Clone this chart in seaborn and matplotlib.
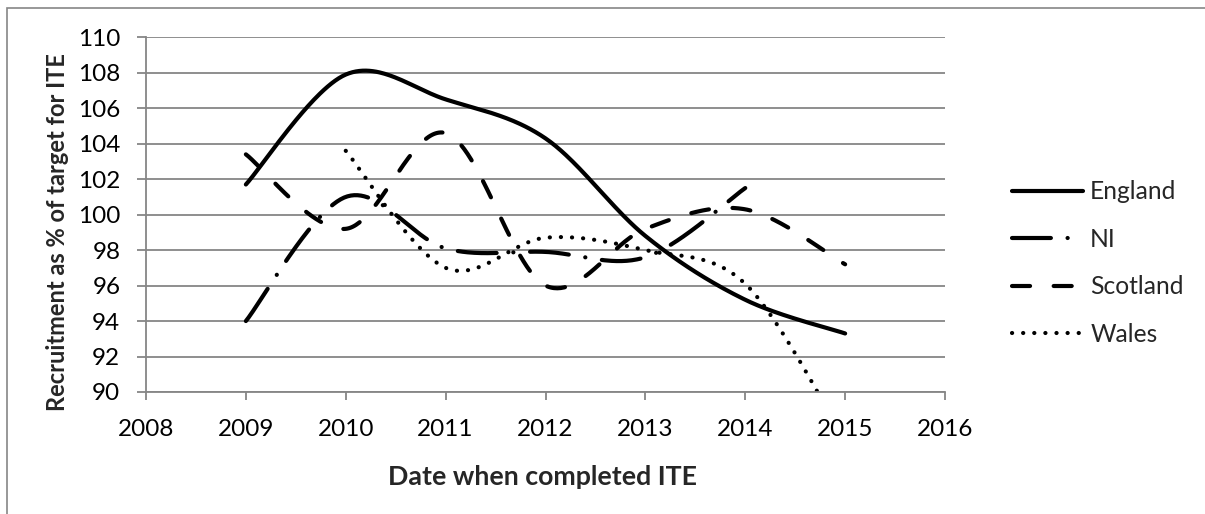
import numpy as np
import pandas as pd
import matplotlib
matplotlib.use("Agg")
import matplotlib.pyplot as plt
import matplotlib.patches as mpatches
import seaborn as sns

# ---- data ----
years_england = [2009, 2010, 2011, 2012, 2013, 2014, 2015]
england = [101.7, 107.9, 106.5, 104.3, 98.8, 95.2, 93.3]
years_ni = [2009, 2010, 2011, 2012, 2013, 2014]
ni = [94.0, 101.0, 98.1, 97.9, 97.6, 101.5]
years_scotland = [2009, 2010, 2011, 2012, 2013, 2014, 2015]
scotland = [103.4, 99.2, 104.6, 96.0, 99.2, 100.3, 97.2]
years_wales = [2010, 2011, 2012, 2013, 2014, 2015]
wales = [103.6, 97.0, 98.7, 98.0, 96.1, 87.3]

x_ticks = [2008, 2009, 2010, 2011, 2012, 2013, 2014, 2015, 2016]
y_ticks = [90, 92, 94, 96, 98, 100, 102, 104, 106, 108, 110]


def smooth(xs, ys, n=60):
    """Excel-like smoothed line: Catmull-Rom cubic Bezier through the points."""
    P = np.column_stack([xs, ys]).astype(float)
    m = len(P)
    out = []
    for i in range(m - 1):
        p0 = P[max(i - 1, 0)]
        p1 = P[i]
        p2 = P[i + 1]
        p3 = P[min(i + 2, m - 1)]
        c1 = p1 + (p2 - p0) / 6.0
        c2 = p2 - (p3 - p1) / 6.0
        t = np.linspace(0, 1, n)[:, None]
        if i > 0:
            t = t[1:]
        seg = ((1 - t) ** 3) * p1 + 3 * ((1 - t) ** 2) * t * c1 + 3 * (1 - t) * t ** 2 * c2 + t ** 3 * p2
        out.append(seg)
    arr = np.vstack(out)
    return arr[:, 0], arr[:, 1]


sns.set_theme(style="white")
plt.rcParams["font.family"] = ["Lato", "DejaVu Sans"]
plt.rcParams["lines.scale_dashes"] = False

fig = plt.figure(figsize=(12.05, 5.14), dpi=100)
ax = fig.add_axes([146 / 1205, 1 - 392 / 514, (945 - 146) / 1205, (392 - 37.3) / 514])

grid_col = "#868686"
lw = 3.0

series = [
    ("England", years_england, england, "-"),
    ("NI", years_ni, ni, (0, (28, 12, 0.1, 12))),
    ("Scotland", years_scotland, scotland, (0, (13, 17))),
    ("Wales", years_wales, wales, (0, (0.1, 7.9))),
]

for name, xs, ys, ls in series:
    sx, sy = smooth(xs, ys)
    df = pd.DataFrame({"year": sx, "value": sy})
    sns.lineplot(data=df, x="year", y="value", ax=ax, sort=False, estimator=None,
                 color="black", linewidth=lw, linestyle=ls, label=name,
                 dash_capstyle="round", solid_capstyle="round")

ax.set_xlim(2008, 2016)
ax.set_ylim(90, 110)
ax.set_xticks(x_ticks)
ax.set_yticks(y_ticks)
ax.set_xticklabels([str(v) for v in x_ticks])
ax.set_yticklabels([str(v) for v in y_ticks])

ax.yaxis.grid(True, color=grid_col, linewidth=1.3)
ax.xaxis.grid(False)
ax.set_axisbelow(True)
for s in ["top", "right"]:
    ax.spines[s].set_visible(False)
for s in ["left", "bottom"]:
    ax.spines[s].set_color(grid_col)
    ax.spines[s].set_linewidth(1.3)

ax.tick_params(axis="x", which="major", direction="out", length=6, width=1.3,
               color=grid_col, labelsize=17.5, pad=13.5, labelcolor="black", bottom=True)
ax.tick_params(axis="y", which="major", direction="out", length=6.5, width=1.3,
               color=grid_col, labelsize=17.5, pad=12, labelcolor="black", left=True)

ax.set_xlabel("")
ax.set_ylabel("")
fig.text(57.5 / 1205, 1 - 232.5 / 514, "Recruitment as % of target for ITE", rotation=90,
         ha="center", va="center", fontsize=17, fontweight="bold")
fig.text(543 / 1205, 1 - 477 / 514, "Date when completed ITE",
         ha="center", va="center", fontsize=19.3, fontweight="bold")

leg = ax.legend(loc="center left", bbox_to_anchor=(1012 / 1205, 1 - 263 / 514),
                bbox_transform=fig.transFigure, frameon=False, fontsize=17.7,
                handlelength=2.9, handletextpad=0.28, labelspacing=1.0,
                borderpad=0, borderaxespad=0)
for line in leg.get_lines():
    line.set_linewidth(lw)
    line.set_dash_capstyle("round")
    line.set_solid_capstyle("round")

frame = mpatches.Rectangle((7 / 1205, -0.05), 1.2, 1 - 8 / 514 + 0.05,
                           transform=fig.transFigure, fill=False,
                           edgecolor=grid_col, linewidth=1.2, clip_on=False)
fig.patches.append(frame)

fig.savefig("out.png", dpi=100, facecolor="white")
